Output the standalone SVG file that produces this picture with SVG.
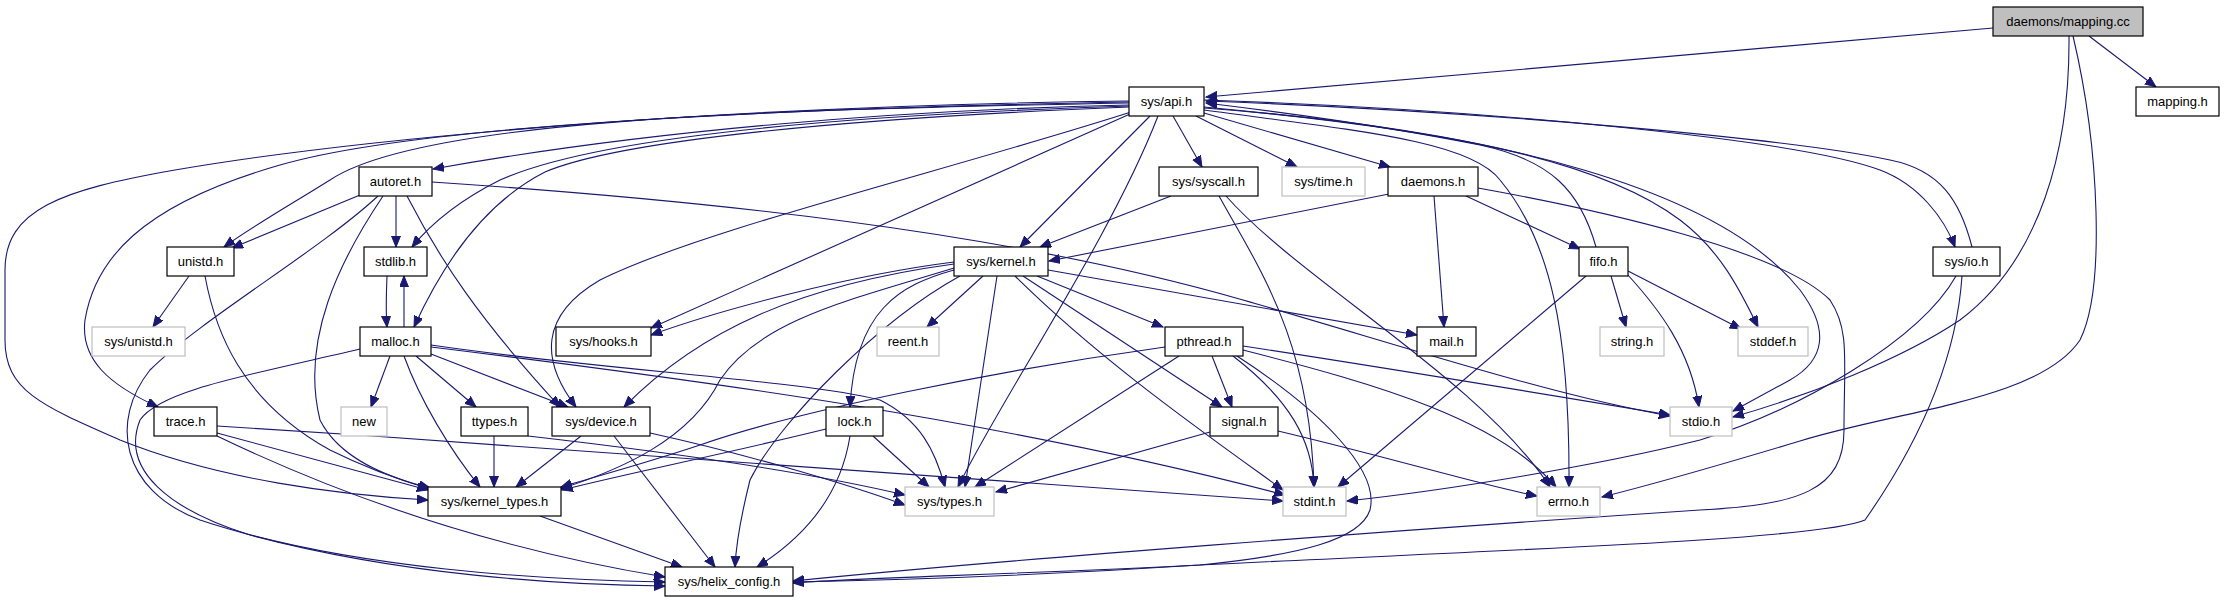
<svg xmlns="http://www.w3.org/2000/svg" width="2224" height="603" viewBox="0 0 2224 603">
<style>
.n rect{fill:#fff;stroke:#000;stroke-width:1.2}
.g rect{fill:#fff;stroke:#bfbfbf;stroke-width:1.2}
.m rect{fill:#bfbfbf;stroke:#000;stroke-width:1.2}
text{font-family:"Liberation Sans",Arial,sans-serif;font-size:13px;fill:#000;text-anchor:middle}
#edges path{fill:none;stroke:#191970;stroke-width:1.1;marker-end:url(#a)}
</style>
<defs>
<marker id="a" markerUnits="userSpaceOnUse" markerWidth="12" markerHeight="10" refX="11" refY="4.5" orient="auto">
<path d="M0,0 L11,4.5 L0,9 Z" fill="#191970" stroke="#191970" stroke-width="1"/>
</marker>
</defs>
<rect width="2224" height="603" fill="#fff"/>
<g id="edges">
<path d="M1993,28 L1206,97"/>
<path d="M2089,36 L2156,87"/>
<path d="M2069,36 C2070,150 2040,260 1960,320 C1900,360 1810,395 1733,417"/>
<path d="M2073,36 C2100,150 2105,290 2080,340 C2040,400 1900,410 1800,441 C1720,465 1650,485 1602,497"/>
<path d="M1129,105 C900,110 650,130 433,169"/>
<path d="M1129,103 C750,110 420,120 330,180 C290,205 250,228 224,247"/>
<path d="M1129,106 C850,115 600,135 500,180 C460,200 430,225 412,247"/>
<path d="M1129,107 C850,118 620,140 545,172 C480,205 440,270 414,327"/>
<path d="M1129,102 C700,110 400,130 280,165 C140,205 95,260 85,320 C80,360 110,385 158,407"/>
<path d="M1129,101 C700,106 350,140 175,170 C60,190 5,210 5,270 L5,340 C5,390 40,405 120,440 C220,480 340,495 428,500"/>
<path d="M1131,112 C950,170 700,230 600,280 C540,315 540,360 576,407"/>
<path d="M1130,114 L651,328"/>
<path d="M1150,116 L1020,247"/>
<path d="M1158,116 C1110,240 1000,400 958,487"/>
<path d="M1173,116 L1202,167"/>
<path d="M1196,116 L1297,167"/>
<path d="M1204,113 L1390,167"/>
<path d="M1204,100 C1500,110 1800,140 1880,170 C1920,185 1945,220 1955,247"/>
<path d="M1972,247 C1960,200 1940,170 1890,160 C1800,140 1500,112 1206,101"/>
<path d="M1596,247 C1580,190 1550,160 1480,145 C1380,125 1280,112 1206,103"/>
<path d="M1204,107 C1450,130 1600,160 1680,220 C1720,250 1740,290 1758,327"/>
<path d="M1204,108 C1500,130 1720,190 1800,290 C1830,330 1825,360 1790,380 L1733,411"/>
<path d="M1204,110 C1350,130 1470,140 1500,180 C1550,240 1570,330 1569,487"/>
<path d="M360,195 L232,248"/>
<path d="M396,196 L396,247"/>
<path d="M432,182 C700,200 1000,230 1243,300 C1400,345 1550,395 1670,416"/>
<path d="M383,196 C340,260 300,340 320,420 C340,460 390,478 430,488"/>
<path d="M407,196 C440,260 480,320 560,407"/>
<path d="M378,196 C320,250 200,320 150,370 C110,420 120,490 200,520 C350,570 550,580 665,582"/>
<path d="M360,349 C250,375 160,390 140,420 C120,470 170,510 250,535 C400,575 560,585 665,586"/>
<path d="M217,433 L428,490"/>
<path d="M217,436 C350,500 500,550 665,577"/>
<path d="M217,426 C600,450 1000,480 1283,501"/>
<path d="M189,276 L153,327"/>
<path d="M205,276 C215,330 240,400 330,450 C370,470 400,480 430,489"/>
<path d="M387,276 C386,300 386,315 387,327"/>
<path d="M404,327 L404,276"/>
<path d="M390,356 L371,407"/>
<path d="M416,356 L476,407"/>
<path d="M431,354 L568,407"/>
<path d="M404,356 C420,400 450,450 480,487"/>
<path d="M431,345 C600,370 800,380 880,400 C920,420 935,450 945,487"/>
<path d="M431,347 C700,380 1000,420 1285,495"/>
<path d="M494,436 L494,487"/>
<path d="M528,436 C650,450 800,470 905,495"/>
<path d="M581,436 L516,487"/>
<path d="M650,433 C750,455 850,485 905,505"/>
<path d="M614,436 L715,567"/>
<path d="M540,516 L682,567"/>
<path d="M983,276 L927,327"/>
<path d="M1037,276 L1163,327"/>
<path d="M1023,276 L1222,407"/>
<path d="M1048,270 L1417,335"/>
<path d="M954,270 C900,285 855,310 850,407"/>
<path d="M997,276 L965,487"/>
<path d="M1015,276 C1100,360 1200,430 1283,490"/>
<path d="M954,264 C800,285 700,330 624,407"/>
<path d="M954,268 C850,300 760,320 720,380 C690,440 620,470 560,489"/>
<path d="M954,262 C850,275 720,310 651,335"/>
<path d="M960,276 C880,320 780,420 750,480 C740,520 736,545 735,567"/>
<path d="M1171,196 L1040,247"/>
<path d="M1219,196 C1260,270 1310,340 1314,487"/>
<path d="M1226,196 C1300,280 1480,380 1550,487"/>
<path d="M1389,194 L1049,261"/>
<path d="M1434,196 L1444,327"/>
<path d="M1466,196 L1580,249"/>
<path d="M1478,188 C1600,210 1780,250 1830,300 C1850,330 1844,360 1844,430 C1844,490 1800,505 1700,510 C1400,530 1000,560 793,581"/>
<path d="M1611,276 L1626,327"/>
<path d="M1627,274 C1660,310 1690,350 1699,407"/>
<path d="M1628,271 L1741,329"/>
<path d="M1586,276 L1338,487"/>
<path d="M1956,276 C1920,340 1800,410 1700,440 C1600,465 1450,490 1347,501"/>
<path d="M1962,276 C1955,380 1900,470 1865,520 C1820,540 1500,550 1200,565 C1000,575 850,578 793,583"/>
<path d="M1165,347 C1000,370 800,410 700,445 C640,465 590,478 561,487"/>
<path d="M1179,356 L975,487"/>
<path d="M1212,356 L1232,407"/>
<path d="M1233,356 C1290,400 1312,440 1314,487"/>
<path d="M1237,356 C1320,410 1380,470 1370,510 C1360,540 1300,555 1200,565 C1000,578 850,581 793,582"/>
<path d="M1243,346 C1400,370 1550,395 1670,415"/>
<path d="M1243,350 C1380,385 1500,420 1556,487"/>
<path d="M1210,432 L996,492"/>
<path d="M1278,431 C1400,460 1480,485 1537,496"/>
<path d="M826,429 C720,455 620,475 562,490"/>
<path d="M873,436 L929,487"/>
<path d="M850,436 C840,500 800,540 757,567"/>
</g>
<g id="n0" class="m"><rect x="1993" y="7" width="150" height="29"/><text x="2068" y="25.5">daemons/mapping.cc</text></g>
<g id="n1" class="n"><rect x="2136" y="87" width="83" height="29"/><text x="2177.5" y="105.5">mapping.h</text></g>
<g id="n2" class="n"><rect x="1129" y="87" width="75" height="29"/><text x="1166.5" y="105.5">sys/api.h</text></g>
<g id="n3" class="n"><rect x="359" y="167" width="73" height="29"/><text x="395.5" y="185.5">autoret.h</text></g>
<g id="n4" class="n"><rect x="1159" y="167" width="99" height="29"/><text x="1208.5" y="185.5">sys/syscall.h</text></g>
<g id="n5" class="g"><rect x="1282" y="167" width="83" height="29"/><text x="1323.5" y="185.5">sys/time.h</text></g>
<g id="n6" class="n"><rect x="1388" y="167" width="90" height="29"/><text x="1433" y="185.5">daemons.h</text></g>
<g id="n7" class="n"><rect x="167" y="247" width="67" height="29"/><text x="200.5" y="265.5">unistd.h</text></g>
<g id="n8" class="n"><rect x="364" y="247" width="63" height="29"/><text x="395.5" y="265.5">stdlib.h</text></g>
<g id="n9" class="n"><rect x="954" y="247" width="94" height="29"/><text x="1001" y="265.5">sys/kernel.h</text></g>
<g id="n10" class="n"><rect x="1579" y="247" width="49" height="29"/><text x="1603.5" y="265.5">fifo.h</text></g>
<g id="n11" class="n"><rect x="1933" y="247" width="67" height="29"/><text x="1966.5" y="265.5">sys/io.h</text></g>
<g id="n12" class="g"><rect x="92" y="327" width="93" height="29"/><text x="138.5" y="345.5">sys/unistd.h</text></g>
<g id="n13" class="n"><rect x="360" y="327" width="71" height="29"/><text x="395.5" y="345.5">malloc.h</text></g>
<g id="n14" class="n"><rect x="556" y="327" width="95" height="29"/><text x="603.5" y="345.5">sys/hooks.h</text></g>
<g id="n15" class="g"><rect x="877" y="327" width="62" height="29"/><text x="908" y="345.5">reent.h</text></g>
<g id="n16" class="n"><rect x="1165" y="327" width="78" height="29"/><text x="1204" y="345.5">pthread.h</text></g>
<g id="n17" class="n"><rect x="1417" y="327" width="59" height="29"/><text x="1446.5" y="345.5">mail.h</text></g>
<g id="n18" class="g"><rect x="1600" y="327" width="64" height="29"/><text x="1632" y="345.5">string.h</text></g>
<g id="n19" class="g"><rect x="1738" y="327" width="70" height="29"/><text x="1773" y="345.5">stddef.h</text></g>
<g id="n20" class="n"><rect x="154" y="407" width="63" height="29"/><text x="185.5" y="425.5">trace.h</text></g>
<g id="n21" class="g"><rect x="341" y="407" width="46" height="29"/><text x="364" y="425.5">new</text></g>
<g id="n22" class="n"><rect x="461" y="407" width="67" height="29"/><text x="494.5" y="425.5">ttypes.h</text></g>
<g id="n23" class="n"><rect x="552" y="407" width="98" height="29"/><text x="601" y="425.5">sys/device.h</text></g>
<g id="n24" class="n"><rect x="826" y="407" width="57" height="29"/><text x="854.5" y="425.5">lock.h</text></g>
<g id="n25" class="n"><rect x="1210" y="407" width="68" height="29"/><text x="1244" y="425.5">signal.h</text></g>
<g id="n26" class="g"><rect x="1670" y="407" width="62" height="29"/><text x="1701" y="425.5">stdio.h</text></g>
<g id="n27" class="n"><rect x="428" y="487" width="133" height="29"/><text x="494.5" y="505.5">sys/kernel_types.h</text></g>
<g id="n28" class="g"><rect x="905" y="487" width="89" height="29"/><text x="949.5" y="505.5">sys/types.h</text></g>
<g id="n29" class="g"><rect x="1283" y="487" width="63" height="29"/><text x="1314.5" y="505.5">stdint.h</text></g>
<g id="n30" class="g"><rect x="1537" y="487" width="63" height="29"/><text x="1568.5" y="505.5">errno.h</text></g>
<g id="n31" class="n"><rect x="665" y="567" width="128" height="29"/><text x="729" y="585.5">sys/helix_config.h</text></g>
</svg>
